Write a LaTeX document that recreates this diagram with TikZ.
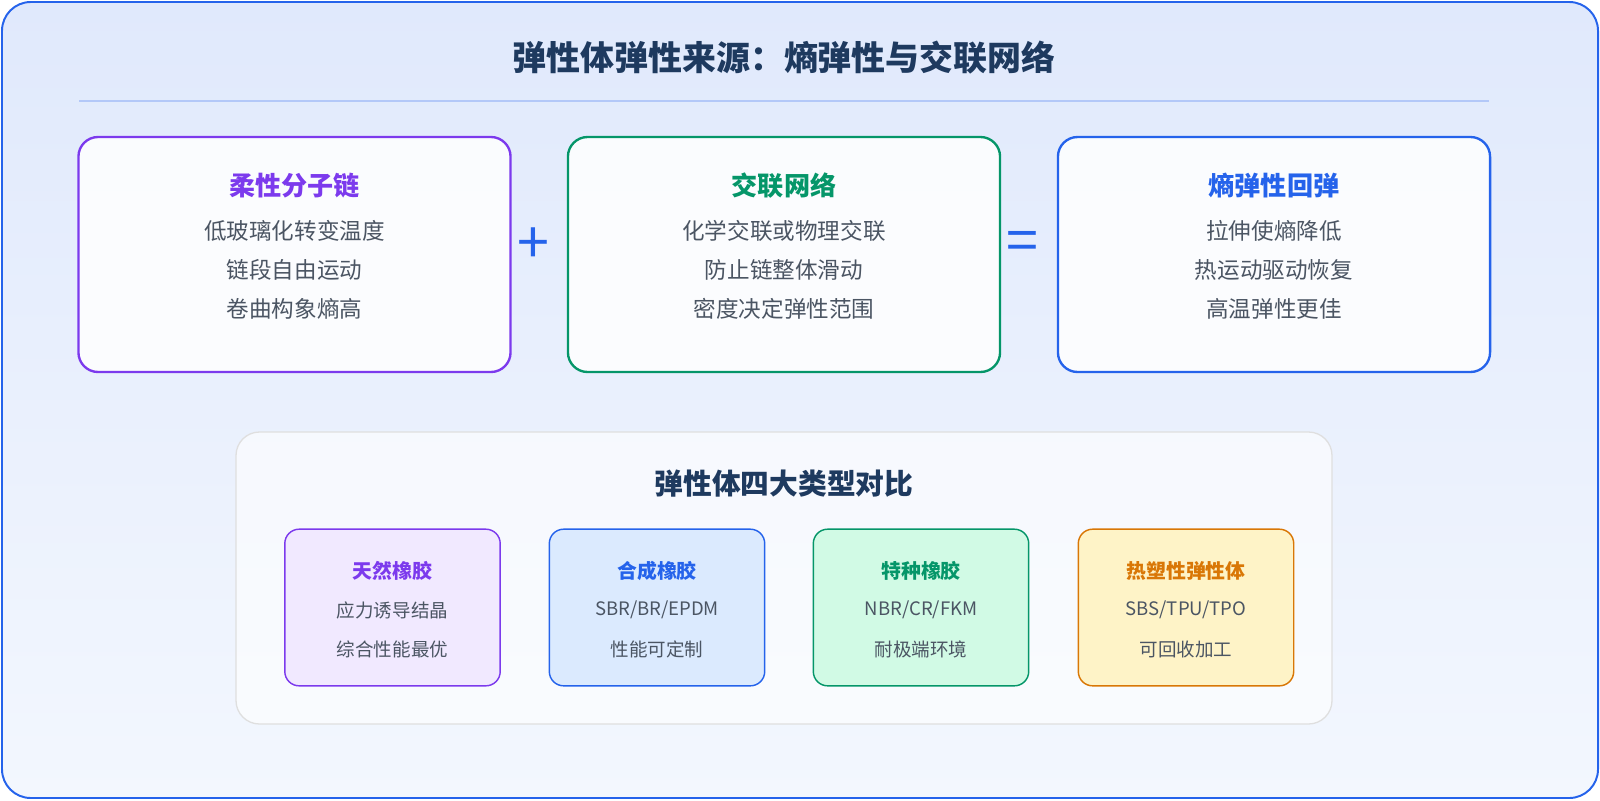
\documentclass[tikz,border=0pt]{standalone}
\usepackage{fontspec}
\setmainfont{Noto Sans CJK SC}
\usetikzlibrary{positioning}
\definecolor{titleblue}{HTML}{1E3A5F}
\definecolor{cpurple}{HTML}{7C3AED}
\definecolor{cgreen}{HTML}{059669}
\definecolor{cblue}{HTML}{2563EB}
\definecolor{corange}{HTML}{D97706}
\definecolor{ctext}{HTML}{4B5563}
\definecolor{bgtop}{HTML}{E0E9FC}
\definecolor{bgbot}{HTML}{F3F7FE}
\definecolor{fpurple}{HTML}{F1E9FF}
\definecolor{fblue}{HTML}{DBEAFE}
\definecolor{fgreen}{HTML}{D1FAE5}
\definecolor{forange}{HTML}{FEF3C7}
\tikzset{
  bigbox/.style={draw=#1,line width=1.8pt,rounded corners=15pt,fill=white,fill opacity=0.85,text opacity=1,minimum width=331pt,minimum height=180pt},
  smallbox/.style={line width=1.1pt,rounded corners=11pt,minimum width=165pt,minimum height=120pt},
  bigtitle/.style={font=\fontsize{20}{22}\selectfont\bfseries,text=#1},
  bigline/.style={font=\fontsize{17.3}{19}\selectfont,text=ctext},
  smalltitle/.style={font=\fontsize{15.2}{18}\selectfont\bfseries,text=#1},
  smallline/.style={font=\fontsize{14.2}{16}\selectfont,text=ctext}
}
\begin{document}
\begin{tikzpicture}[x=0.766pt,y=-0.766pt]
% background
\shade[top color=bgtop,bottom color=bgbot,rounded corners=22pt] (2,2) rectangle (1598,798);
\draw[cblue,line width=1.5pt,rounded corners=22pt] (2,2) rectangle (1598,798);
\node[font=\fontsize{26}{30}\selectfont\bfseries,text=titleblue] (title) at (784,58) {弹性体弹性来源：熵弹性与交联网络};
\draw[cblue!35,line width=1pt] (79,101) -- (1489,101);
% three boxes
\node[bigbox=cpurple] (chain) at (294.5,254.5) {};
\node[bigbox=cgreen] (net) at (784,254.5) {};
\node[bigbox=cblue] (rebound) at (1274,254.5) {};
\foreach \x/\c/\t/\a/\b/\d in {294.5/cpurple/柔性分子链/低玻璃化转变温度/链段自由运动/卷曲构象熵高,
  784/cgreen/交联网络/化学交联或物理交联/防止链整体滑动/密度决定弹性范围,
  1274/cblue/熵弹性回弹/拉伸使熵降低/热运动驱动恢复/高温弹性更佳}{
  \node[bigtitle=\c] at (\x,186) {\t};
  \node[bigline] at (\x,231) {\a};
  \node[bigline] at (\x,270) {\b};
  \node[bigline] at (\x,309) {\d};
}
\node[text=cblue,font=\fontsize{44}{44}\selectfont] (plus) at (533,246) {+};
\node[text=cblue,font=\fontsize{44}{44}\selectfont] (eq) at (1022,246) {=};
% lower panel
\draw[draw=gray!25,line width=1pt,fill=white,fill opacity=0.6,rounded corners=18pt] (236,432) rectangle (1332,724);
\node[font=\fontsize{22}{26}\selectfont\bfseries,text=titleblue] (ptitle) at (784,484) {弹性体四大类型对比};
\foreach \x/\c/\f/\t/\a/\b in {392.5/cpurple/fpurple/天然橡胶/{应力诱导结晶}/综合性能最优,
  657/cblue/fblue/合成橡胶/{SBR/BR/EPDM}/性能可定制,
  921/cgreen/fgreen/特种橡胶/{NBR/CR/FKM}/耐极端环境,
  1186/corange/forange/热塑性弹性体/{SBS/TPU/TPO}/可回收加工}{
  \node[smallbox,draw=\c,fill=\f] at (\x,607.5) {};
  \node[smalltitle=\c] at (\x,571) {\t};
  \node[smallline] at (\x,610) {\a};
  \node[smallline] at (\x,649) {\b};
}
\pgfresetboundingbox
\useasboundingbox (0,0) rectangle (1600,800);
\end{tikzpicture}
\end{document}
